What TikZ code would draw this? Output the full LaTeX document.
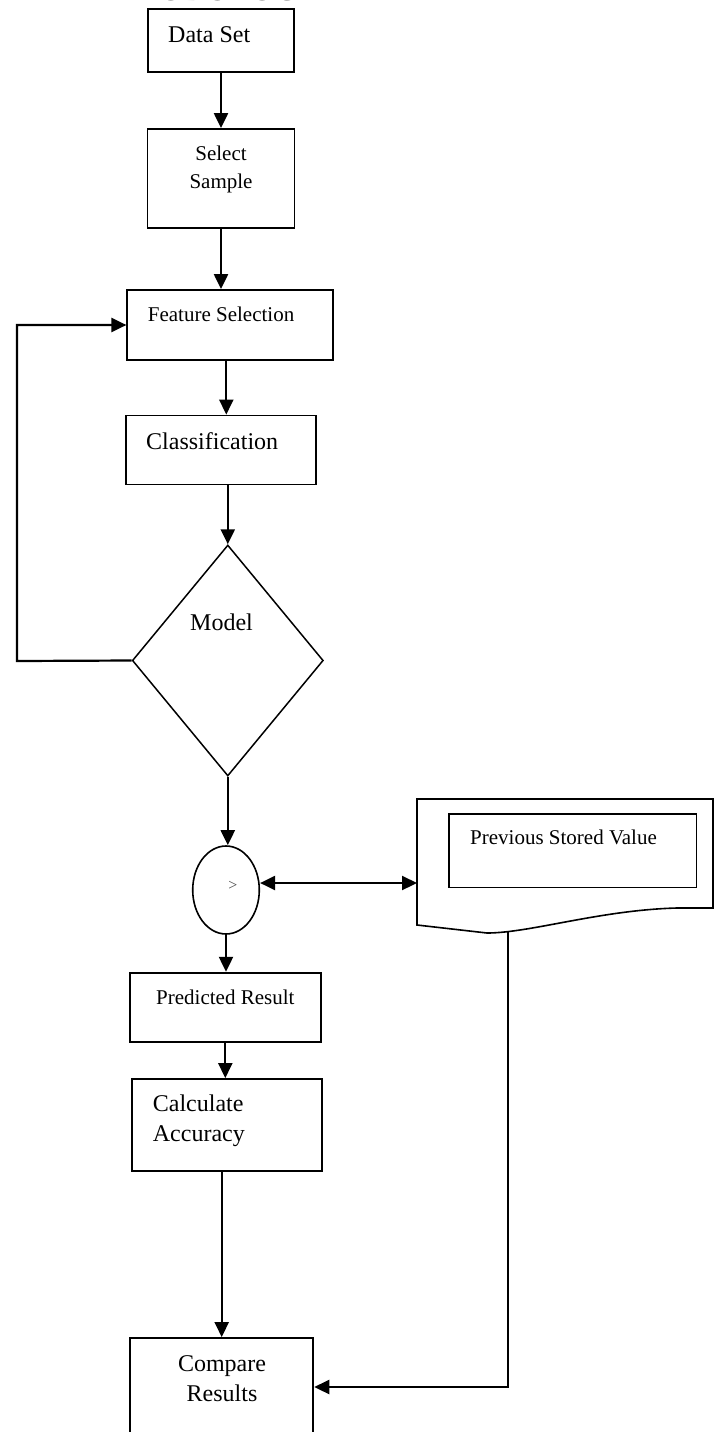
\documentclass[tikz,border=0pt]{standalone}
\usepackage{fontspec}
\setmainfont{Liberation Serif}
\usetikzlibrary{arrows.meta,shapes.geometric}
\begin{document}
\begin{tikzpicture}[x=1pt,y=-1pt,
  box/.style={draw,line width=1.8pt,rectangle,inner sep=0pt},
  arr/.style={line width=2.2pt,-{Triangle[length=15pt,width=14pt]}},
  dblarr/.style={line width=2.2pt,{Triangle[length=15pt,width=14pt]}-{Triangle[length=15pt,width=14pt]}},
  big/.style={font=\fontsize{24}{29}\selectfont,inner sep=0pt},
  small/.style={font=\fontsize{21}{25}\selectfont,inner sep=0pt}]
\useasboundingbox (0,0) rectangle (716,1432);
% title (cut off at the top)
\node[anchor=base west,inner sep=0pt,font=\fontsize{31}{36}\bfseries\selectfont] (title) at (64,0.5) {METHODOLOGY};
% boxes
\node[box,minimum width=146pt,minimum height=63pt] (data) at (221,40.5) {};
\node[box,minimum width=147pt,minimum height=99pt] (sel) at (221,178.5) {};
\node[box,minimum width=206pt,minimum height=70pt] (feat) at (230.3,325) {};
\node[box,minimum width=190pt,minimum height=69pt] (class) at (220.7,450) {};
\node[draw,line width=1.5pt,diamond,inner sep=0pt,minimum width=191pt,minimum height=231pt] (model) at (227.8,660.5) {};
\node[draw,line width=1.6pt,ellipse,inner sep=0pt,minimum width=66.6pt,minimum height=88pt] (ell) at (226,890) {};
\node[box,minimum width=190.7pt,minimum height=69pt] (pred) at (225.3,1007.2) {};
\node[box,minimum width=190pt,minimum height=92pt] (calc) at (226.7,1125) {};
\node[box,minimum width=183.3pt,minimum height=110pt] (comp) at (221.7,1393) {};
% document shape
\draw[line width=1.6pt] (417,799) coordinate (docTL) -- (713,799) -- (713,908)
  -- (677,908) .. controls (600,910) and (530,933) .. (487,933) -- (417,925) -- cycle;
\node[box,line width=1.6pt,minimum width=247.7pt,minimum height=73.3pt] (prev) at (572.8,850.7) {};
\coordinate (docL) at (417,883);
\coordinate (docB) at (508,932);
\coordinate (turn) at (508,1387);
\coordinate (fbk) at (17,661);
% texts
\node[big,anchor=base west] (tdata) at (168,42) {Data Set};
\node[small,anchor=base] (tsel1) at (221,160.7) {Select};
\node[small,anchor=base] (tsel2) at (221,188) {Sample};
\node[small,anchor=base west] (tfeat) at (147.7,321) {Feature Selection};
\node[big,anchor=base west] (tclass) at (146,449) {Classification};
\node[big,anchor=base west] (tmodel) at (190,630) {Model};
\node[inner sep=0pt,font=\fontsize{16}{19}\selectfont,text=black!70] (tgt) at (233,886) {>};
\node[small,anchor=base west] (tprev) at (470,844) {Previous Stored Value};
\node[small,anchor=base west] (tpred) at (156,1004) {Predicted Result};
\node[big,anchor=base west] (tcalc1) at (152.7,1111.7) {Calculate};
\node[big,anchor=base west] (tcalc2) at (152.7,1141.7) {Accuracy};
\node[big,anchor=base] (tcomp1) at (222,1371) {Compare};
\node[big,anchor=base] (tcomp2) at (222,1401.7) {Results};
% connectors
\draw[arr] (data.south) -- (sel.north);
\draw[arr] (sel.south) -- (sel.south |- feat.north);
\draw[arr] ([xshift=-4pt]feat.south) -- ([xshift=-4pt]feat.south |- class.north);
\draw[arr] (model.north |- class.south) -- (model.north);
\draw[arr] (model.south) -- (model.south |- ell.north);
\draw[arr] (ell.south) -- (ell.south |- pred.north);
\draw[arr] (pred.south) -- (pred.south |- calc.north);
\draw[arr] (comp.north |- calc.south) -- (comp.north);
\draw[arr] (model.west) -- (fbk) |- (feat.west);
\draw[dblarr] (ell.east |- docL) -- (docL);
\draw[arr] (docB) -- (turn) -- (turn -| comp.east);
\end{tikzpicture}
\end{document}
